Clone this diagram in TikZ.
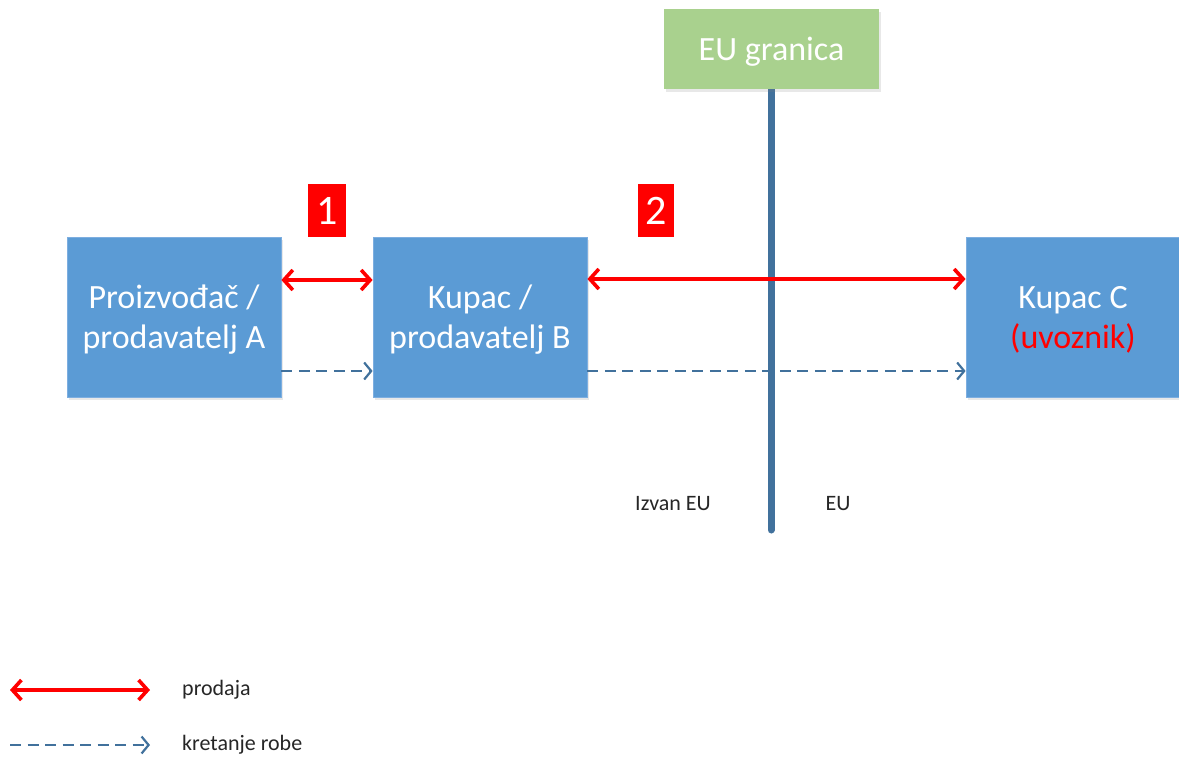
\documentclass[tikz,border=0pt]{standalone}
\usepackage{fontspec}
\setmainfont{Carlito}
\usetikzlibrary{arrows.meta,shadows}
\definecolor{boxblue}{HTML}{5B9BD5}
\definecolor{boxedge}{HTML}{7DAEE0}
\definecolor{bordergreen}{HTML}{A9D18E}
\definecolor{lineblue}{HTML}{41719C}
\definecolor{salered}{HTML}{FF0000}
\definecolor{labelgray}{HTML}{262626}
\tikzset{
  party/.style={draw=boxedge, line width=0.8pt, fill=boxblue, text=white,
    minimum width=214pt, minimum height=160pt, inner sep=0pt, text depth=0pt,
    align=center, font=\fontsize{34}{40}\selectfont,
    drop shadow={opacity=0.18, shadow xshift=1.5pt, shadow yshift=-2.5pt}},
  border/.style={fill=bordergreen, text=white, minimum width=215pt,
    minimum height=80pt, inner sep=0pt, text depth=0pt,
    font=\fontsize{34}{40}\selectfont,
    drop shadow={opacity=0.18, shadow xshift=1.5pt, shadow yshift=-2.5pt}},
  numtag/.style={fill=salered, text=white, minimum height=53pt, inner sep=0pt,
    font=\fontsize{42}{50}\selectfont},
  sale/.style={draw=salered, line width=3.6pt,
    {Straight Barb[length=9pt,width=20pt,line width=3.6pt]}-{Straight Barb[length=9pt,width=20pt,line width=3.6pt]}},
  goods/.style={draw=lineblue, line width=2.2pt, dash pattern=on 11pt off 6.5pt,
    -{Straight Barb[length=7pt,width=17pt,line width=2.2pt]}},
  note/.style={text=labelgray, font=\fontsize{22}{26}\selectfont, inner sep=0pt}
}
\begin{document}
\begin{tikzpicture}[x=1pt,y=-1pt]
  \useasboundingbox (0,0) rectangle (1179,756);

  % EU border line
  \coordinate (bTop) at (771,80);
  \coordinate (bBot) at (771,530);
  \draw[lineblue, line width=7pt, line cap=round] (bTop) -- (bBot);

  % parties and border label
  \node[party] (A) at (174,317) {Proizvođač /\\prodavatelj A};
  \node[party] (B) at (480,317) {Kupac /\\prodavatelj B};
  \node[party] (C) at (1073,317) {Kupac C\\\textcolor{salered}{(uvoznik)}};
  \node[border] (EU) at (771.5,49) {EU granica};

  % numbered transactions
  \node[numtag, minimum width=38pt] (n1) at (327,210.5) {1};
  \node[numtag, minimum width=36pt] (n2) at (656,210.5) {2};

  % sales
  \draw[sale] ([yshift=37pt]A.east) -- ([yshift=37pt]B.west);
  \draw[sale] ([yshift=38pt]B.east) -- ([yshift=38pt]C.west);

  % movement of goods
  \draw[goods] ([yshift=-54pt]A.east) -- ([yshift=-54pt]B.west);
  \draw[goods] ([yshift=-54pt]B.east) -- ([yshift=-54pt]C.west);

  % sides of the border
  \node[note] (outEU) at (673,504) {Izvan EU};
  \node[note] (inEU) at (838,504) {EU};

  % legend
  \coordinate (l1a) at (10,690);
  \coordinate (l1b) at (150,690);
  \coordinate (l2a) at (10,745);
  \coordinate (l2b) at (150,745);
  \draw[sale] (l1a) -- (l1b);
  \draw[goods] (l2a) -- (l2b);
  \node[note, anchor=west] (lg1) at (182,690) {prodaja};
  \node[note, anchor=west] (lg2) at (182,745) {kretanje robe};
\end{tikzpicture}
\end{document}
